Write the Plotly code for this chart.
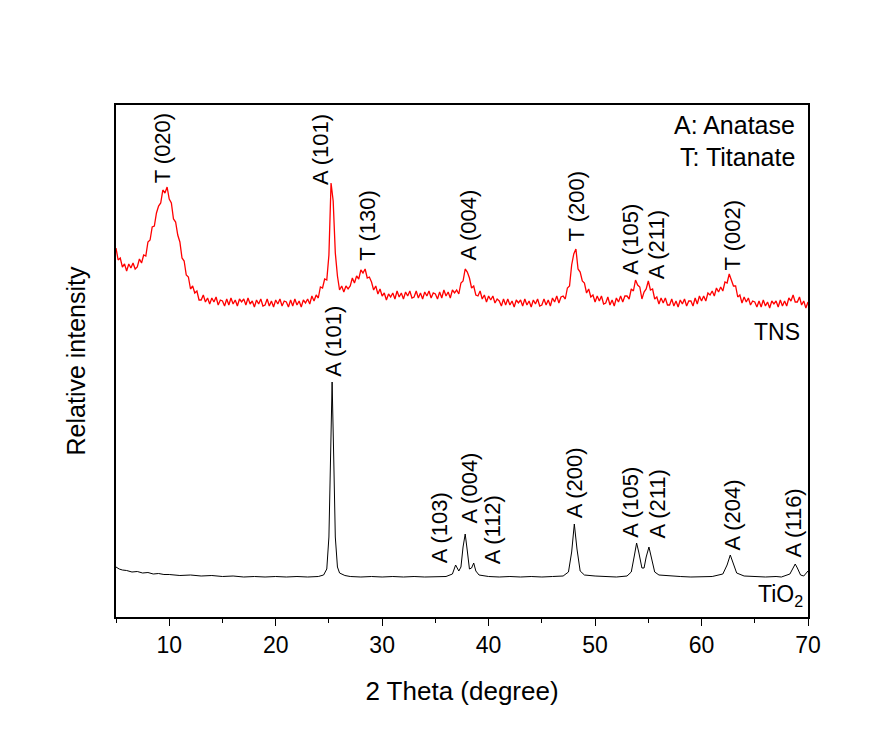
import numpy as np
import plotly.graph_objects as go

# ---------------- data ----------------
# TNS (red) pattern: 2-theta from 5.0 to 70.0 in 0.2 degree steps
tns_start, tns_step = 5.0, 0.2
tns_intensity = [
    369, 357, 359, 350, 353, 346, 353, 349, 354, 348,
    350, 358, 354, 362, 361, 375, 377, 390, 391, 404,
    411, 414, 427, 424, 430, 418, 414, 398, 395, 382,
    375, 359, 356, 342, 340, 328, 331, 324, 326, 317,
    317, 322, 315, 319, 313, 319, 315, 320, 312, 317,
    316, 311, 318, 312, 319, 313, 317, 311, 318, 315,
    318, 312, 319, 313, 316, 310, 317, 313, 318, 311,
    312, 318, 311, 316, 310, 317, 313, 318, 311, 316,
    315, 310, 317, 311, 318, 312, 316, 310, 317, 314,
    318, 313, 321, 316, 322, 319, 330, 329, 338, 337,
    362, 434, 416, 364, 341, 327, 331, 325, 331, 328,
    331, 339, 334, 341, 338, 347, 344, 348, 339, 340,
    335, 327, 331, 323, 328, 321, 324, 317, 323, 320,
    324, 318, 326, 320, 324, 318, 325, 321, 326, 319,
    320, 326, 319, 324, 318, 325, 321, 326, 319, 324,
    323, 318, 325, 319, 327, 321, 325, 319, 327, 324,
    327, 323, 334, 336, 348, 345, 339, 329, 331, 322,
    321, 326, 318, 322, 315, 321, 317, 321, 314, 318,
    316, 311, 318, 312, 318, 312, 316, 310, 317, 314,
    317, 311, 318, 312, 316, 310, 317, 313, 318, 311,
    312, 318, 312, 317, 311, 319, 315, 321, 314, 320,
    321, 318, 329, 331, 352, 363, 368, 348, 345, 336,
    334, 324, 328, 320, 322, 315, 321, 316, 321, 313,
    314, 320, 312, 317, 311, 319, 315, 321, 315, 321,
    321, 318, 328, 326, 337, 332, 330, 318, 325, 328,
    336, 327, 328, 318, 320, 313, 319, 314, 319, 312,
    312, 318, 311, 316, 310, 317, 313, 318, 311, 316,
    316, 311, 319, 313, 321, 316, 321, 316, 324, 322,
    326, 321, 329, 325, 330, 326, 335, 334, 343, 337,
    331, 331, 320, 322, 314, 320, 315, 319, 312, 316,
    315, 310, 316, 310, 317, 311, 315, 309, 316, 313,
    316, 310, 317, 311, 316, 311, 319, 316, 322, 315,
    315, 320, 312, 316, 309, 315,
]
tns_theta = np.round(tns_start + tns_step * np.arange(len(tns_intensity)), 2)

# TiO2 (black) pattern
tio2_theta = [
    5.0, 5.3, 5.6, 6.0, 6.5, 7.0, 7.5, 8.0, 8.5, 9.0, 9.5, 10.0, 11.0, 12.0, 13.0,
    14.0, 15.0, 16.0, 17.0, 18.0, 19.0, 20.0, 21.0, 22.0, 23.0, 24.0, 24.5, 24.8,
    25.0, 25.15, 25.3, 25.45, 25.6, 25.8, 26.0, 26.5, 27.0, 28.0, 29.0, 30.0, 31.0,
    32.0, 33.0, 34.0, 35.0, 36.0, 36.6, 36.9, 37.2, 37.4, 37.6, 37.8, 38.0, 38.2,
    38.4, 38.6, 38.8, 39.1, 40.0, 41.0, 42.0, 43.0, 44.0, 45.0, 46.0, 47.0, 47.5,
    47.8, 48.05, 48.3, 48.6, 49.0, 50.0, 51.0, 52.0, 53.0, 53.4, 53.7, 53.9, 54.1,
    54.4, 54.6, 54.8, 55.06, 55.3, 55.6, 56.0, 57.0, 58.0, 59.0, 60.0, 61.0, 62.0,
    62.4, 62.7, 63.0, 63.3, 64.0, 65.0, 66.0, 67.0, 67.5, 68.3, 68.6, 68.8, 69.0,
    69.3, 69.6, 70.0,
]
tio2_intensity = [
    50, 48, 47, 46.5, 45, 45.5, 44, 44.5, 43, 43.5, 42.5, 42.5, 41.5, 42, 41,
    41.5, 40.5, 41, 40, 40.5, 40, 40.5, 40, 40.5, 40, 40.5, 42, 48,
    80, 160, 235, 160, 80, 50, 44, 41.5, 40.5, 40, 40.5, 40, 40.5,
    40, 40.5, 40, 40.5, 40.5, 43, 52, 46, 50, 70, 83, 66, 48,
    49, 54, 46, 42, 40.5, 40, 40.5, 40, 40.5, 40, 40.5, 41, 45,
    65, 93, 68, 46, 42, 41, 40.5, 40, 41, 45, 62, 74, 65,
    49, 49, 60, 70, 60, 45, 42, 41, 40.5, 40, 40.5, 40.5, 43,
    52, 62, 52, 44, 41, 40.5, 40, 40.5, 40, 43, 49, 53, 49,
    42, 41, 46,
]

# peak labels (text, 2-theta position, intensity position)
tns_labels = ["T (020)", "A (101)", "T (130)", "A (004)", "T (200)", "A (105)", "A (211)", "T (002)"]
tns_label_x = [9.4, 24.2, 28.6, 38.07, 48.3, 53.3, 55.8, 62.95]
tns_label_y = [432, 430, 354, 354, 374, 340, 336, 345]

tio2_labels = ["A (101)", "A (103)", "A (004)", "A (112)", "A (200)", "A (105)", "A (211)", "A (204)", "A (116)"]
tio2_label_x = [25.4, 35.4, 38.25, 40.4, 48.1, 53.3, 55.9, 62.95, 68.6]
tio2_label_y = [238, 52, 92, 51, 97, 77, 77, 65, 57]

series_names = ["TNS", "TiO<sub>2</sub>"]
phase_legend = ["A: Anatase", "T: Titanate"]
x_ticks = [10, 20, 30, 40, 50, 60, 70]

# ---------------- figure ----------------
FONT = "Liberation Sans, Arial, sans-serif"
fig = go.Figure()
fig.add_trace(go.Scatter(x=tns_theta, y=tns_intensity, mode="lines",
                         line=dict(color="#ff0000", width=1.3), name="TNS"))
fig.add_trace(go.Scatter(x=tio2_theta, y=tio2_intensity, mode="lines",
                         line=dict(color="#000000", width=1), name="TiO2"))

annos = []
for t, x, y in zip(tns_labels, tns_label_x, tns_label_y):
    annos.append(dict(x=x, y=y, text=t, textangle=-90, showarrow=False,
                      xanchor="center", yanchor="bottom", font=dict(size=22, family=FONT, color="black")))
for t, x, y in zip(tio2_labels, tio2_label_x, tio2_label_y):
    annos.append(dict(x=x, y=y, text=t, textangle=-90, showarrow=False,
                      xanchor="center", yanchor="bottom", font=dict(size=22, family=FONT, color="black")))

# sample names
annos.append(dict(x=69.4, y=285, text=series_names[0], showarrow=False, xanchor="right", yanchor="middle",
                  font=dict(size=23, family=FONT, color="black")))
annos.append(dict(x=69.7, y=22, text=series_names[1], showarrow=False, xanchor="right", yanchor="middle",
                  font=dict(size=23, family=FONT, color="black")))
# phase key
annos.append(dict(x=69.0, y=492, text=phase_legend[0], showarrow=False, xanchor="right", yanchor="middle",
                  font=dict(size=25, family=FONT, color="black")))
annos.append(dict(x=69.0, y=460, text=phase_legend[1], showarrow=False, xanchor="right", yanchor="middle",
                  font=dict(size=25, family=FONT, color="black")))

fig.update_layout(
    width=891, height=753,
    margin=dict(l=108, r=91, t=97, b=144),
    paper_bgcolor="white", plot_bgcolor="white",
    showlegend=False,
    annotations=annos,
    font=dict(family=FONT, color="black"),
)
fig.update_xaxes(
    range=[5, 70], tickvals=x_ticks, ticks="outside", ticklen=7, tickwidth=1.3, tickcolor="black",
    minor=dict(dtick=5, tick0=5, ticks="outside", ticklen=4, tickwidth=1.3, tickcolor="black"),
    showline=True, linecolor="black", linewidth=1.5, mirror=True, showgrid=False, zeroline=False,
    tickfont=dict(size=23, family=FONT, color="black"),
    title=dict(text="2 Theta (degree)", font=dict(size=26, family=FONT, color="black"), standoff=24),
)
fig.update_yaxes(
    range=[0, 512], showticklabels=False, ticks="",
    showline=True, linecolor="black", linewidth=1.5, mirror=True, showgrid=False, zeroline=False,
    title=dict(text="Relative intensity", font=dict(size=25, family=FONT, color="black"), standoff=22),
)

fig.write_html("out.html")
